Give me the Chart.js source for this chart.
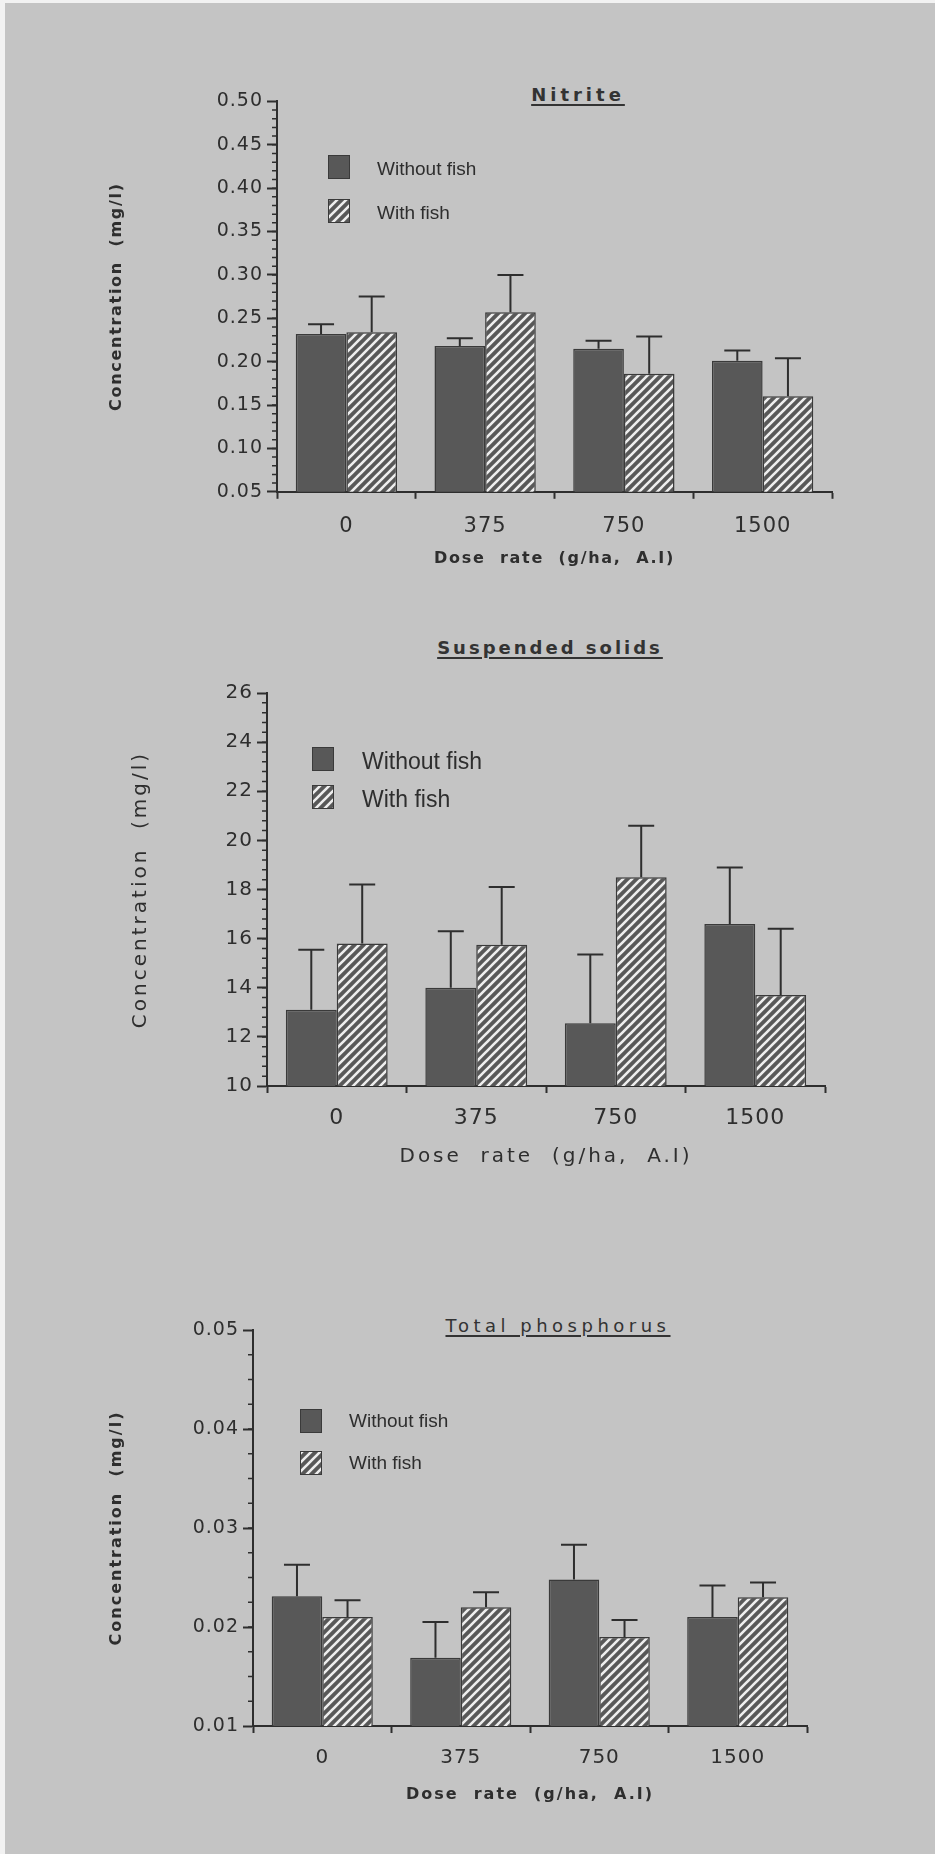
<!DOCTYPE html>
<html>
<head>
<meta charset="utf-8">
<title>Nitrite, suspended solids and total phosphorus</title>
<script src="https://cdn.jsdelivr.net/npm/chart.js"></script>
<style>
html, body {
	margin: 0;
	padding: 0;
}
body {
	width: 935px;
	height: 1854px;
	position: relative;
	overflow: hidden;
	background: #c4c4c4;
	font-family: "DejaVu Sans", sans-serif;
	color: #333;
}
.edge-top { position: absolute; left: 0; top: 0; width: 935px; height: 3px; background: #f2f2f2; }
.edge-left { position: absolute; left: 0; top: 0; width: 5px; height: 1854px; background: #f2f2f2; }
.box { position: absolute; left: 0; width: 935px; }
.title {
	position: absolute;
	width: 400px;
	height: 24px;
	line-height: 24px;
	text-align: center;
	font-size: 18px;
	text-decoration: underline;
	text-decoration-thickness: 1.5px;
	text-underline-offset: 3px;
}
</style>
</head>
<body>
<div class="edge-top"></div>
<div class="edge-left"></div>

<div class="title" style="left:378px; top:83px; font-weight:bold; letter-spacing:4px;">Nitrite</div>
<div class="title" style="left:350px; top:636px; font-weight:bold; letter-spacing:3px;">Suspended solids</div>
<div class="title" style="left:358px; top:1314px; letter-spacing:4.5px;">Total phosphorus</div>

<div class="box" style="top:60px; height:560px;"><canvas id="nitrite"></canvas></div>
<div class="box" style="top:620px; height:580px;"><canvas id="solids"></canvas></div>
<div class="box" style="top:1250px; height:604px;"><canvas id="phosphorus"></canvas></div>

<script>
// dose rates (g/ha, A.I)
const doses = ['0', '375', '750', '1500'];
const seriesNames = ['Without fish', 'With fish'];

// Nitrite (mg/l), bar = mean, sd = height of the error bar
const nitriteWithout = [0.232, 0.218, 0.215, 0.201];
const nitriteWithoutSd = [0.011, 0.009, 0.009, 0.012];
const nitriteWith = [0.234, 0.257, 0.186, 0.160];
const nitriteWithSd = [0.041, 0.043, 0.043, 0.044];

// Suspended solids (mg/l)
const solidsWithout = [13.1, 14.0, 12.55, 16.6];
const solidsWithoutSd = [2.45, 2.3, 2.8, 2.3];
const solidsWith = [15.8, 15.75, 18.5, 13.7];
const solidsWithSd = [2.4, 2.35, 2.1, 2.7];

// Total phosphorus (mg/l)
const phosWithout = [0.0231, 0.0169, 0.0248, 0.0210];
const phosWithoutSd = [0.0032, 0.0036, 0.0035, 0.0032];
const phosWith = [0.0210, 0.0220, 0.0190, 0.0230];
const phosWithSd = [0.0017, 0.0015, 0.0017, 0.0015];

const ink = '#2e2e2e';
const barGrey = '#585858';

// hatch fill for the "with fish" bars
function hatch(ctx) {
	const c = document.createElement('canvas');
	c.width = c.height = 9;
	const g = c.getContext('2d');
	g.fillStyle = barGrey;
	g.fillRect(0, 0, 9, 9);
	g.strokeStyle = '#eeeeee';
	g.lineWidth = 2.6;
	g.beginPath();
	g.moveTo(-1, 10); g.lineTo(10, -1);
	g.moveTo(-1, 1); g.lineTo(1, -1);
	g.moveTo(8, 10); g.lineTo(10, 8);
	g.stroke();
	return ctx.createPattern(c, 'repeat');
}

// letter spacing: a little on tick labels, more on the axis titles
const spacing = {
	id: 'spacing',
	beforeDraw(chart, args, o) {
		Object.values(chart.scales).forEach(sc => {
			if (sc._spaced) return;
			const drawTitle = sc.drawTitle;
			sc.drawTitle = function () {
				this.ctx.save();
				this.ctx.letterSpacing = o.title;
				drawTitle.call(this);
				this.ctx.restore();
			};
			sc._spaced = true;
		});
		chart.ctx.letterSpacing = o.ticks;
	}
};

// upward error bars with a cap
const errorBars = {
	id: 'errorBars',
	afterDatasetsDraw(chart) {
		const ctx = chart.ctx;
		const y = chart.scales.y;
		ctx.save();
		ctx.strokeStyle = ink;
		ctx.lineWidth = 2;
		chart.data.datasets.forEach((ds, i) => {
			chart.getDatasetMeta(i).data.forEach((bar, j) => {
				const top = y.getPixelForValue(ds.data[j] + ds.sd[j]);
				ctx.beginPath();
				ctx.moveTo(bar.x, bar.y);
				ctx.lineTo(bar.x, top);
				ctx.moveTo(bar.x - 13, top);
				ctx.lineTo(bar.x + 13, top);
				ctx.stroke();
			});
		});
		ctx.restore();
	}
};

// small ticks between the labelled ones
const minorTicks = {
	id: 'minorTicks',
	afterDraw(chart, args, o) {
		const ctx = chart.ctx;
		const y = chart.scales.y;
		const left = chart.chartArea.left;
		const n = Math.round((y.max - y.min) / o.step);
		ctx.save();
		ctx.strokeStyle = ink;
		ctx.lineWidth = 1.5;
		ctx.beginPath();
		for (let i = 1; i < n; i++) {
			const p = y.getPixelForValue(y.min + i * o.step);
			ctx.moveTo(left - 5, p);
			ctx.lineTo(left, p);
		}
		ctx.stroke();
		ctx.restore();
	}
};

// legend drawn inside the plot, top left
const boxLegend = {
	id: 'boxLegend',
	afterDraw(chart, args, o) {
		const ctx = chart.ctx;
		const area = chart.chartArea;
		ctx.save();
		ctx.letterSpacing = '0px';
		chart.data.datasets.forEach((ds, i) => {
			const x = area.left + o.x;
			const y = area.top + o.y + i * o.gap;
			ctx.fillStyle = ds.backgroundColor;
			ctx.fillRect(x, y, 22, 24);
			ctx.strokeStyle = '#3a3a3a';
			ctx.lineWidth = 1;
			ctx.strokeRect(x + 0.5, y + 0.5, 21, 23);
			ctx.fillStyle = ink;
			ctx.font = o.size + 'px "Liberation Sans"';
			ctx.textBaseline = 'middle';
			ctx.fillText(ds.label, area.left + o.textX, y + 12 + o.textDy);
		});
		ctx.restore();
	}
};

function makeChart(id, s) {
	const ctx = document.getElementById(id).getContext('2d');
	return new Chart(ctx, {
		type: 'bar',
		data: {
			labels: doses,
			datasets: [{
				label: seriesNames[0],
				data: s.without,
				sd: s.withoutSd,
				backgroundColor: barGrey,
				borderColor: '#3a3a3a',
				borderWidth: 1.5
			}, {
				label: seriesNames[1],
				data: s.withFish,
				sd: s.withSd,
				backgroundColor: hatch(ctx),
				borderColor: '#3a3a3a',
				borderWidth: 1.5
			}]
		},
		options: {
			responsive: true,
			maintainAspectRatio: false,
			animation: false,
			layout: { padding: { left: 0, top: s.top, right: s.right, bottom: 0 } },
			categoryPercentage: 0.73,
			barPercentage: 1.0,
			plugins: {
				legend: { display: false },
				tooltip: { enabled: false },
				spacing: { ticks: '1px', title: s.titleSpacing },
				minorTicks: { step: s.minor },
				boxLegend: s.legend
			},
			scales: {
				x: {
					grid: { offset: true, drawOnChartArea: false, tickLength: 7, tickColor: ink, tickWidth: 2 },
					border: { color: ink, width: 2 },
					ticks: { color: ink, font: { family: 'DejaVu Sans', size: s.xTickSize }, padding: s.xTickPad },
					title: {
						display: true,
						text: 'Dose  rate  (g/ha,  A.I)',
						color: ink,
						font: { family: 'DejaVu Sans', size: s.xTitleSize, weight: s.titleWeight },
						padding: { top: 0, bottom: s.xTitlePad }
					},
					afterFit: sc => { sc.height = s.xHeight; }
				},
				y: {
					min: s.min,
					max: s.max,
					grid: { drawOnChartArea: false, tickLength: 10, tickColor: ink, tickWidth: 2 },
					border: { color: ink, width: 2 },
					ticks: {
						stepSize: s.step,
						color: ink,
						padding: 4,
						font: { family: 'DejaVu Sans', size: s.yTickSize },
						callback: v => v.toFixed(s.decimals)
					},
					title: {
						display: true,
						text: 'Concentration  (mg/l)',
						color: ink,
						font: { family: 'DejaVu Sans', size: s.yTitleSize, weight: s.titleWeight },
						padding: { top: s.yTitlePad, bottom: 0 }
					},
					afterFit: sc => { sc.width = s.left; }
				}
			}
		},
		plugins: [spacing, errorBars, minorTicks, boxLegend]
	});
}

makeChart('nitrite', {
	without: nitriteWithout, withoutSd: nitriteWithoutSd,
	withFish: nitriteWith, withSd: nitriteWithSd,
	min: 0.05, max: 0.50, step: 0.05, minor: 0.01, decimals: 2,
	top: 41.4, right: 103, left: 277, xHeight: 128.2,
	titleSpacing: '1.7px', titleWeight: 'bold',
	xTickSize: 21, xTickPad: 15.5, xTitleSize: 16, xTitlePad: 52,
	yTickSize: 19, yTitleSize: 16, yTitlePad: 107,
	legend: { x: 51, y: 53.6, gap: 44, textX: 100, textDy: 3, size: 19 }
});

makeChart('solids', {
	without: solidsWithout, withoutSd: solidsWithoutSd,
	withFish: solidsWith, withSd: solidsWithSd,
	min: 10, max: 26, step: 2, minor: 0.4, decimals: 0,
	top: 73, right: 110, left: 267, xHeight: 114,
	titleSpacing: '3px', titleWeight: 'normal',
	xTickSize: 22, xTickPad: 12.5, xTitleSize: 20, xTitlePad: 31,
	yTickSize: 20, yTitleSize: 20, yTitlePad: 129,
	legend: { x: 45, y: 54, gap: 38, textX: 95, textDy: 4, size: 23 }
});

makeChart('phosphorus', {
	without: phosWithout, withoutSd: phosWithoutSd,
	withFish: phosWith, withSd: phosWithSd,
	min: 0.01, max: 0.05, step: 0.01, minor: 0.0025, decimals: 2,
	top: 80, right: 128, left: 253, xHeight: 128,
	titleSpacing: '2px', titleWeight: 'bold',
	xTickSize: 20, xTickPad: 13, xTitleSize: 16, xTitlePad: 50,
	yTickSize: 19, yTitleSize: 16, yTitlePad: 107,
	legend: { x: 47, y: 79, gap: 42, textX: 96, textDy: 1, size: 19 }
});
</script>
</body>
</html>
